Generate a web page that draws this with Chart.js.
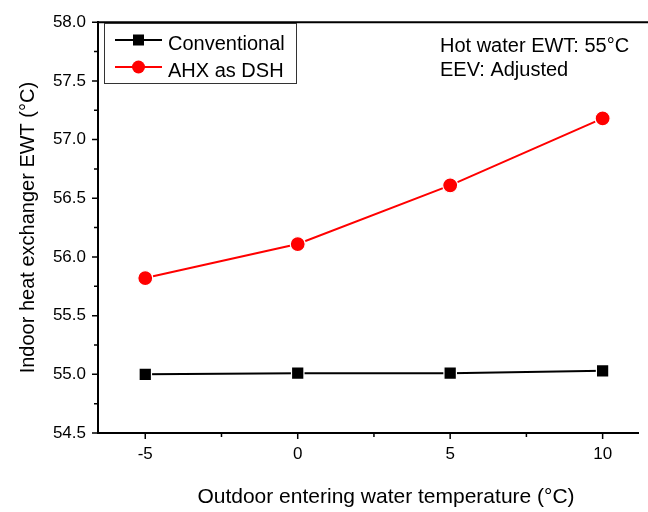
<!DOCTYPE html>
<html>
<head>
<meta charset="utf-8">
<script src="https://cdn.jsdelivr.net/npm/chart.js@4.4.0/dist/chart.umd.min.js"></script>
<style>
  html, body { margin: 0; padding: 0; background: #fff; }
</style>
</head>
<body>
<canvas id="chart" width="648" height="512"></canvas>
<script>
// -------------------- DATA -------------------
const outdoorTemps = [-5, 0, 5, 10];
const conventional = [55.00, 55.01, 55.01, 55.03];
const ahxAsDsh = [55.82, 56.11, 56.61, 57.18];

const xTickValues = [-5, 0, 5, 10];
const xMinorValues = [-2.5, 2.5, 7.5];
const yTickValues = [54.5, 55.0, 55.5, 56.0, 56.5, 57.0, 57.5, 58.0];
const yMinorValues = [54.75, 55.25, 55.75, 56.25, 56.75, 57.25, 57.75];

const seriesNames = ['Conventional', 'AHX as DSH'];
const noteLines = ['Hot water EWT: 55\u00B0C', 'EEV: Adjusted'];
const xTitle = 'Outdoor entering water temperature (\u00B0C)';
const yTitle = 'Indoor heat exchanger EWT (\u00B0C)';

const FONT = '"Liberation Sans", Arial, sans-serif';

// -------------------- PLUGINS -------------------
// outward tick marks (major + minor) and the top frame line
const tickMarks = {
  id: 'tickMarks',
  afterDraw(chart) {
    const ctx = chart.ctx;
    const x = chart.scales.x, y = chart.scales.y;
    const area = chart.chartArea;
    ctx.save();
    ctx.strokeStyle = '#000';
    ctx.lineWidth = 1.5;
    ctx.beginPath();
    xTickValues.forEach(v => { let p = x.getPixelForValue(v); ctx.moveTo(p, area.bottom); ctx.lineTo(p, area.bottom + 6); });
    xMinorValues.forEach(v => { let p = x.getPixelForValue(v); ctx.moveTo(p, area.bottom); ctx.lineTo(p, area.bottom + 4); });
    yTickValues.forEach(v => { let p = y.getPixelForValue(v); ctx.moveTo(area.left, p); ctx.lineTo(area.left - 6, p); });
    yMinorValues.forEach(v => { let p = y.getPixelForValue(v); ctx.moveTo(area.left, p); ctx.lineTo(area.left - 4, p); });
    ctx.stroke();
    // top frame
    ctx.lineWidth = 2;
    ctx.beginPath();
    ctx.moveTo(area.left - 1, area.top);
    ctx.lineTo(chart.width, area.top);
    ctx.stroke();
    ctx.restore();
  }
};

// boxed legend in the upper left, the note in the upper right, x title
const boxLegend = {
  id: 'boxLegend',
  afterDraw(chart) {
    const ctx = chart.ctx;
    ctx.save();
    ctx.strokeStyle = '#333';
    ctx.lineWidth = 1;
    ctx.strokeRect(104.5, 23.5, 192, 60);
    ctx.font = '20px ' + FONT;
    ctx.textBaseline = 'alphabetic';
    ctx.textAlign = 'left';
    const rows = [40, 67];
    chart.data.datasets.forEach((ds, i) => {
      let yy = rows[i];
      ctx.strokeStyle = ds.borderColor;
      ctx.lineWidth = 2;
      ctx.beginPath();
      ctx.moveTo(115, yy);
      ctx.lineTo(162, yy);
      ctx.stroke();
      ctx.fillStyle = ds.backgroundColor;
      if (ds.pointStyle === 'rect') {
        ctx.fillRect(133, yy - 5.5, 11, 11);
      } else {
        ctx.beginPath();
        ctx.arc(138.5, yy, 6.5, 0, Math.PI * 2);
        ctx.fill();
      }
      ctx.fillStyle = '#000';
      ctx.fillText(ds.label, 168, yy + 10);
    });
    ctx.fillText(noteLines[0], 440, 52);
    ctx.fillText(noteLines[1], 440, 76);

    ctx.font = '21px ' + FONT;
    ctx.textAlign = 'center';
    ctx.textBaseline = 'middle';
    ctx.fillText(xTitle, 386, 497);
    ctx.restore();
  }
};

// -------------------- CHART -------------------
new Chart(document.getElementById('chart'), {
  type: 'line',
  data: {
    datasets: [
      {
        label: seriesNames[0],
        data: outdoorTemps.map((t, i) => ({ x: t, y: conventional[i] })),
        borderColor: '#000',
        backgroundColor: '#000',
        borderWidth: 2,
        pointStyle: 'rect',
        pointRadius: 8.8,
        pointBorderColor: '#fff',
        pointBorderWidth: 1.2,
        pointBackgroundColor: '#000'
      },
      {
        label: seriesNames[1],
        data: outdoorTemps.map((t, i) => ({ x: t, y: ahxAsDsh[i] })),
        borderColor: '#ff0000',
        backgroundColor: '#ff0000',
        borderWidth: 2,
        pointStyle: 'circle',
        pointRadius: 7.5,
        pointBorderColor: '#fff',
        pointBorderWidth: 1.2,
        pointBackgroundColor: '#ff0000'
      }
    ]
  },
  options: {
    responsive: false,
    animation: false,
    layout: { padding: { top: 17, right: 0, left: 0, bottom: 0 } },
    plugins: { legend: { display: false }, tooltip: { enabled: false } },
    scales: {
      x: {
        type: 'linear',
        min: -6.55,
        max: 11.16,
        afterBuildTicks: s => { s.ticks = xTickValues.map(v => ({ value: v })); },
        afterFit: s => { s.height = 79; },
        grid: { display: false, drawTicks: false },
        border: { display: true, color: '#000', width: 2 },
        ticks: { color: '#000', font: { family: FONT, size: 17 }, padding: 11, maxRotation: 0 }
      },
      y: {
        min: 54.5,
        max: 58.0,
        afterBuildTicks: s => { s.ticks = yTickValues.map(v => ({ value: v })); },
        afterFit: s => { s.width = 98; },
        grid: { display: false, drawTicks: false },
        border: { display: true, color: '#000', width: 2 },
        ticks: {
          color: '#000',
          font: { family: FONT, size: 17 },
          padding: 12,
          callback: v => v.toFixed(1)
        },
        title: {
          display: true,
          text: yTitle,
          color: '#000',
          font: { family: FONT, size: 20 },
          padding: { top: 16, bottom: 0 }
        }
      }
    }
  },
  plugins: [tickMarks, boxLegend]
});
</script>
</body>
</html>
